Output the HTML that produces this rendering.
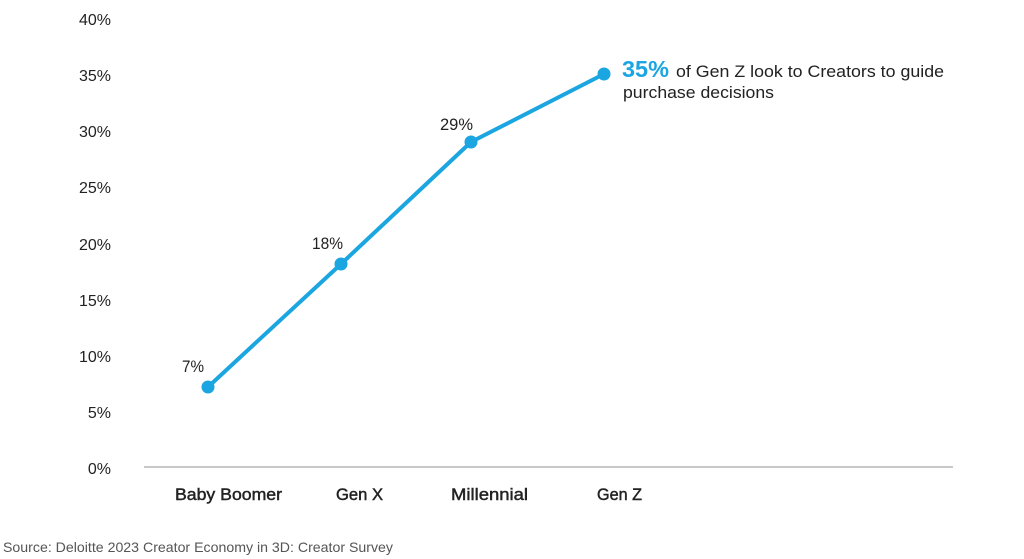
<!DOCTYPE html>
<html><head><meta charset="utf-8"><style>
html,body{margin:0;padding:0;background:#fff;}
svg{display:block;}
text{font-family:"Liberation Sans",sans-serif;}
</style></head><body>
<svg width="1024" height="559" viewBox="0 0 1024 559" xmlns="http://www.w3.org/2000/svg">
<rect width="1024" height="559" fill="#fff"/>
<g font-size="16" fill="#222" text-anchor="end">
<text x="111" y="25">40%</text>
<text x="111" y="81">35%</text>
<text x="111" y="137">30%</text>
<text x="111" y="193">25%</text>
<text x="111" y="250">20%</text>
<text x="111" y="306">15%</text>
<text x="111" y="362">10%</text>
<text x="111" y="418">5%</text>
<text x="111" y="474">0%</text>
</g>
<line x1="144" y1="467" x2="953" y2="467" stroke="#b5b5b5" stroke-width="1.5"/>
<g font-size="16.5" fill="#222" stroke="#222" stroke-width="0.45">
<text x="175" y="500" textLength="107" lengthAdjust="spacingAndGlyphs">Baby Boomer</text>
<text x="336" y="500" textLength="47" lengthAdjust="spacingAndGlyphs">Gen X</text>
<text x="451" y="500" textLength="77" lengthAdjust="spacingAndGlyphs">Millennial</text>
<text x="597" y="500" textLength="45" lengthAdjust="spacingAndGlyphs">Gen Z</text>
</g>
<polyline points="208,387 341,264 471,142 604,74" fill="none" stroke="#1ba5e1" stroke-width="4" stroke-linejoin="round"/>
<g fill="#1ba5e1">
<circle cx="208" cy="387" r="6.5"/>
<circle cx="341" cy="264" r="6.5"/>
<circle cx="471" cy="142" r="6.5"/>
<circle cx="604" cy="74" r="6.5"/>
</g>
<g font-size="16.5" fill="#222">
<text x="182" y="372" textLength="22" lengthAdjust="spacingAndGlyphs">7%</text>
<text x="312" y="249" textLength="31" lengthAdjust="spacingAndGlyphs">18%</text>
<text x="440" y="130" textLength="33" lengthAdjust="spacingAndGlyphs">29%</text>
</g>
<text x="622" y="77" font-size="23" font-weight="bold" fill="#1ba5e1" textLength="47" lengthAdjust="spacingAndGlyphs">35%</text>
<text x="676" y="77" font-size="16.5" fill="#222" textLength="268" lengthAdjust="spacingAndGlyphs">of Gen Z look to Creators to guide</text>
<text x="623" y="98" font-size="16.5" fill="#222" textLength="151" lengthAdjust="spacingAndGlyphs">purchase decisions</text>
<text x="3" y="552" font-size="14" fill="#555" textLength="390" lengthAdjust="spacingAndGlyphs">Source: Deloitte 2023 Creator Economy in 3D: Creator Survey</text>
</svg>
</body></html>
